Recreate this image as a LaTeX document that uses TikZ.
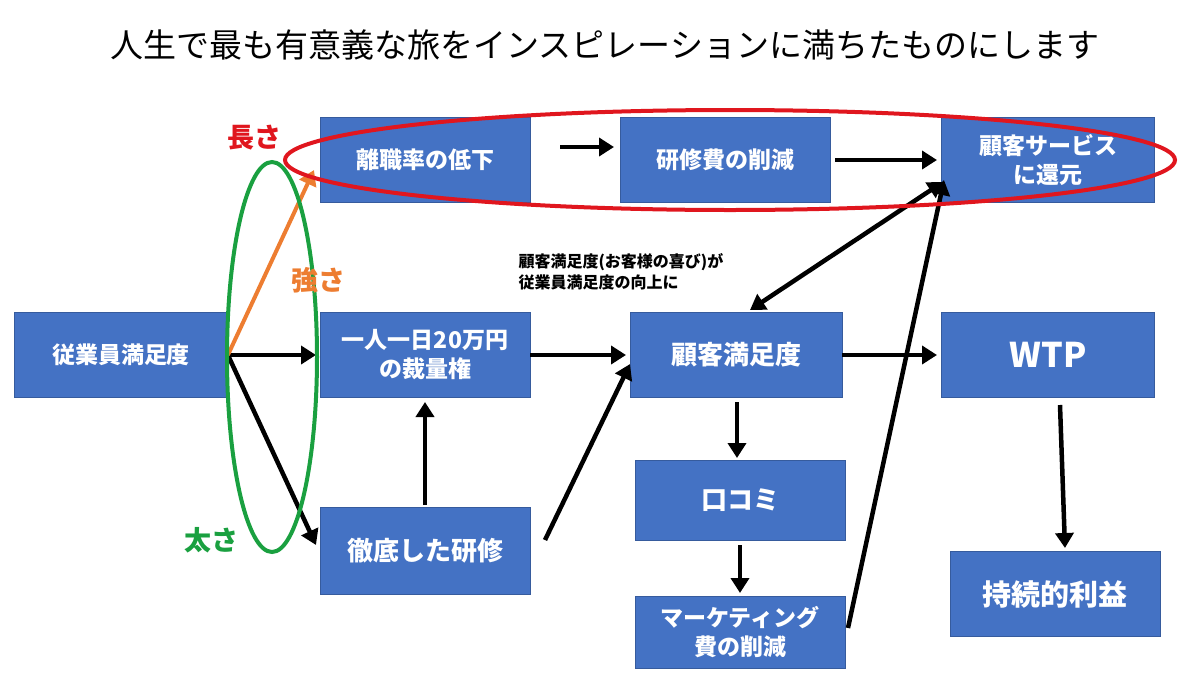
\documentclass[tikz,border=0pt]{standalone}
\usepackage{fontspec}
\setmainfont{Noto Sans CJK JP}
\usetikzlibrary{arrows.meta}
\definecolor{boxblue}{HTML}{4472C4}
\definecolor{myorange}{HTML}{ED7D31}
\definecolor{mygreen}{HTML}{1AA040}
\definecolor{myred}{HTML}{E0161E}
\begin{document}
\begin{tikzpicture}[x=1pt,y=-1pt,
  box/.style={fill=boxblue,draw=boxblue!80!black,line width=0.8pt,text=white,font=\fontsize{23}{29}\selectfont\bfseries,align=center,inner sep=0pt},
  arr/.style={line width=4.5pt,-{Triangle[length=15pt,width=18pt]}},
  lab/.style={font=\fontsize{27}{30}\selectfont\bfseries}]
\useasboundingbox (0,0) rectangle (1200,675);
\node[font=\fontsize{33}{38}\selectfont] (title) at (605,45) {人生で最も有意義な旅をインスピレーションに満ちたものにします};
\node[box,minimum width=210pt,minimum height=85pt] (a) at (425,160) {離職率の低下};
\node[box,minimum width=210pt,minimum height=85pt] (b) at (725,160) {研修費の削減};
\node[box,minimum width=213pt,minimum height=85pt] (c) at (1048,160) {顧客サービス\\に還元};
\node[box,minimum width=213pt,minimum height=85pt] (d) at (121,355) {従業員満足度};
\node[box,minimum width=210pt,minimum height=85pt] (e) at (425,355) {一人一日20万円\\の裁量権};
\node[box,minimum width=212pt,minimum height=85pt,font=\fontsize{26}{30}\selectfont\bfseries] (f) at (736,355) {顧客満足度};
\node[box,minimum width=213pt,minimum height=85pt,font=\fontsize{34}{38}\selectfont\bfseries] (g) at (1048,355) {WTP};
\node[box,minimum width=210pt,minimum height=80pt,font=\fontsize{26}{30}\selectfont\bfseries] (h) at (740,500) {口コミ};
\node[box,minimum width=210pt,minimum height=87pt,font=\fontsize{26}{30}\selectfont\bfseries] (i) at (425,551) {徹底した研修};
\node[box,minimum width=210pt,minimum height=72pt] (j) at (740,632) {マーケティング\\費の削減};
\node[box,minimum width=210pt,minimum height=85pt,font=\fontsize{29}{33}\selectfont\bfseries] (k) at (1055,594) {持続的利益};
\coordinate (a1) at (560,147); \coordinate (b1) at (614,147);
\draw[arr] (a1) -- (b1);
\draw[arr] (b.east) ++(5,0) coordinate (b2) -- (937,160);
\draw[line width=4.5pt,{Triangle[length=15pt,width=18pt]}-{Triangle[length=15pt,width=18pt]}] (943,182) coordinate (c1) -- (750,310) coordinate (f1);
\draw[arr] (d.east) -- (316,355);
\draw[arr] (d.east) -- (316,545);
\draw[arr,myorange,line width=4pt] (d.east) -- (314,170);
\draw[arr] (e.east) -- (626,355);
\draw[arr] (425,505) -- (425,402);
\draw[arr] (545,540) -- (630,364);
\draw[arr] (f.east) -- (937,355);
\draw[arr] (737,402) -- (737,458);
\draw[arr] (740,545) -- (740,593);
\draw[arr] (848,628) -- (944,180);
\draw[arr] (1060,405) -- (1065,548);
\draw[myred,line width=4pt] (730,160) ellipse [x radius=445, y radius=50];
\draw[mygreen,line width=4pt] (272,357) ellipse [x radius=45, y radius=195];
\node[lab,text=myred] (l1) at (254,138) {長さ};
\node[lab,text=myorange] (l2) at (318,280) {強さ};
\node[lab,text=mygreen] (l3) at (211,540) {太さ};
\node[font=\fontsize{16}{21}\selectfont\bfseries,align=left,anchor=north west] (n) at (515,250) {顧客満足度(お客様の喜び)が\\従業員満足度の向上に};
\end{tikzpicture}
\end{document}
